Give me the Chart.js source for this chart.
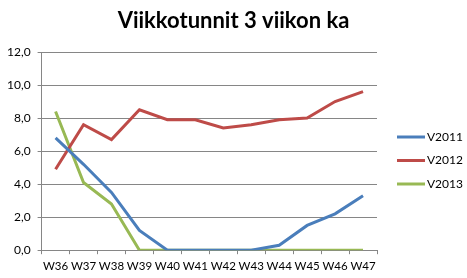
<!DOCTYPE html>
<html>
<head>
<meta charset="utf-8">
<script src="https://cdn.jsdelivr.net/npm/chart.js@4"></script>
<style>
  html, body { margin: 0; padding: 0; background: #fff; }
  #wrap { width: 467px; height: 278px; }
</style>
</head>
<body>
<div id="wrap"><canvas id="viikkoChart"></canvas></div>
<script>
const viikot = ['W36', 'W37', 'W38', 'W39', 'W40', 'W41', 'W42', 'W43', 'W44', 'W45', 'W46', 'W47'];
const v2011 = [6.8, 5.2, 3.5, 1.2, 0, 0, 0, 0, 0.3, 1.5, 2.2, 3.3];
const v2012 = [4.9, 7.6, 6.7, 8.5, 7.9, 7.9, 7.4, 7.6, 7.9, 8.0, 9.0, 9.6];
const v2013 = [8.4, 4.1, 2.8, 0, 0, 0, 0, 0, 0, 0, 0, 0];
const yTicks = [0, 2, 4, 6, 8, 10, 12];
const otsikko = 'Viikkotunnit 3 viikon ka';

const fontti = 'Lato, "Liberation Sans", sans-serif';

// otsikko koko kuvan keskelle ja selite oikealle, kuten Excelissä
const koristeet = {
    id: 'koristeet',
    afterDraw(chart) {
        const c = chart.ctx;
        c.save();
        c.fillStyle = '#000';
        c.font = 'bold 22px ' + fontti;
        c.textAlign = 'center';
        c.textBaseline = 'middle';
        c.fillText(otsikko, chart.width / 2, 21);

        const x0 = chart.chartArea.right + 20;
        let y = 137;
        c.font = '12px ' + fontti;
        c.textAlign = 'left';
        chart.data.datasets.forEach(ds => {
            c.strokeStyle = ds.borderColor;
            c.lineWidth = 3;
            c.beginPath();
            c.moveTo(x0, y);
            c.lineTo(x0 + 28, y);
            c.stroke();
            c.fillStyle = '#000';
            c.fillText(ds.label, x0 + 30, y);
            y += 23.5;
        });
        c.restore();
    }
};

const ctx = document.getElementById('viikkoChart').getContext('2d');
new Chart(ctx, {
    type: 'line',
    data: {
        labels: viikot,
        datasets: [
            { label: 'V2011', data: v2011, borderColor: '#4A7EBB', backgroundColor: '#4A7EBB', borderWidth: 3 },
            { label: 'V2012', data: v2012, borderColor: '#BE4B48', backgroundColor: '#BE4B48', borderWidth: 3 },
            { label: 'V2013', data: v2013, borderColor: '#98B954', backgroundColor: '#98B954', borderWidth: 3 }
        ]
    },
    options: {
        responsive: true,
        maintainAspectRatio: false,
        animation: false,
        devicePixelRatio: 1,
        elements: {
            line: { tension: 0 },
            point: { radius: 0 }
        },
        layout: { padding: { left: 0, right: 90, top: 52, bottom: 0 } },
        scales: {
            x: {
                offset: true,
                grid: { offset: true, drawOnChartArea: false, color: '#868686', tickLength: 4 },
                border: { color: '#868686' },
                ticks: { color: '#000', font: { family: fontti, size: 11.5 }, maxRotation: 0, autoSkip: false, padding: 5 }
            },
            y: {
                min: 0,
                max: 12,
                afterBuildTicks: axis => { axis.ticks = yTicks.map(v => ({ value: v })); },
                grid: { color: '#868686', tickLength: 4 },
                border: { color: '#868686' },
                ticks: {
                    color: '#000',
                    font: { family: fontti, size: 12 },
                    padding: 7,
                    callback: v => v.toFixed(1).replace('.', ',')
                }
            }
        },
        plugins: {
            title: { display: false },
            legend: { display: false },
            tooltip: { enabled: false }
        }
    },
    plugins: [koristeet]
});
</script>
</body>
</html>
